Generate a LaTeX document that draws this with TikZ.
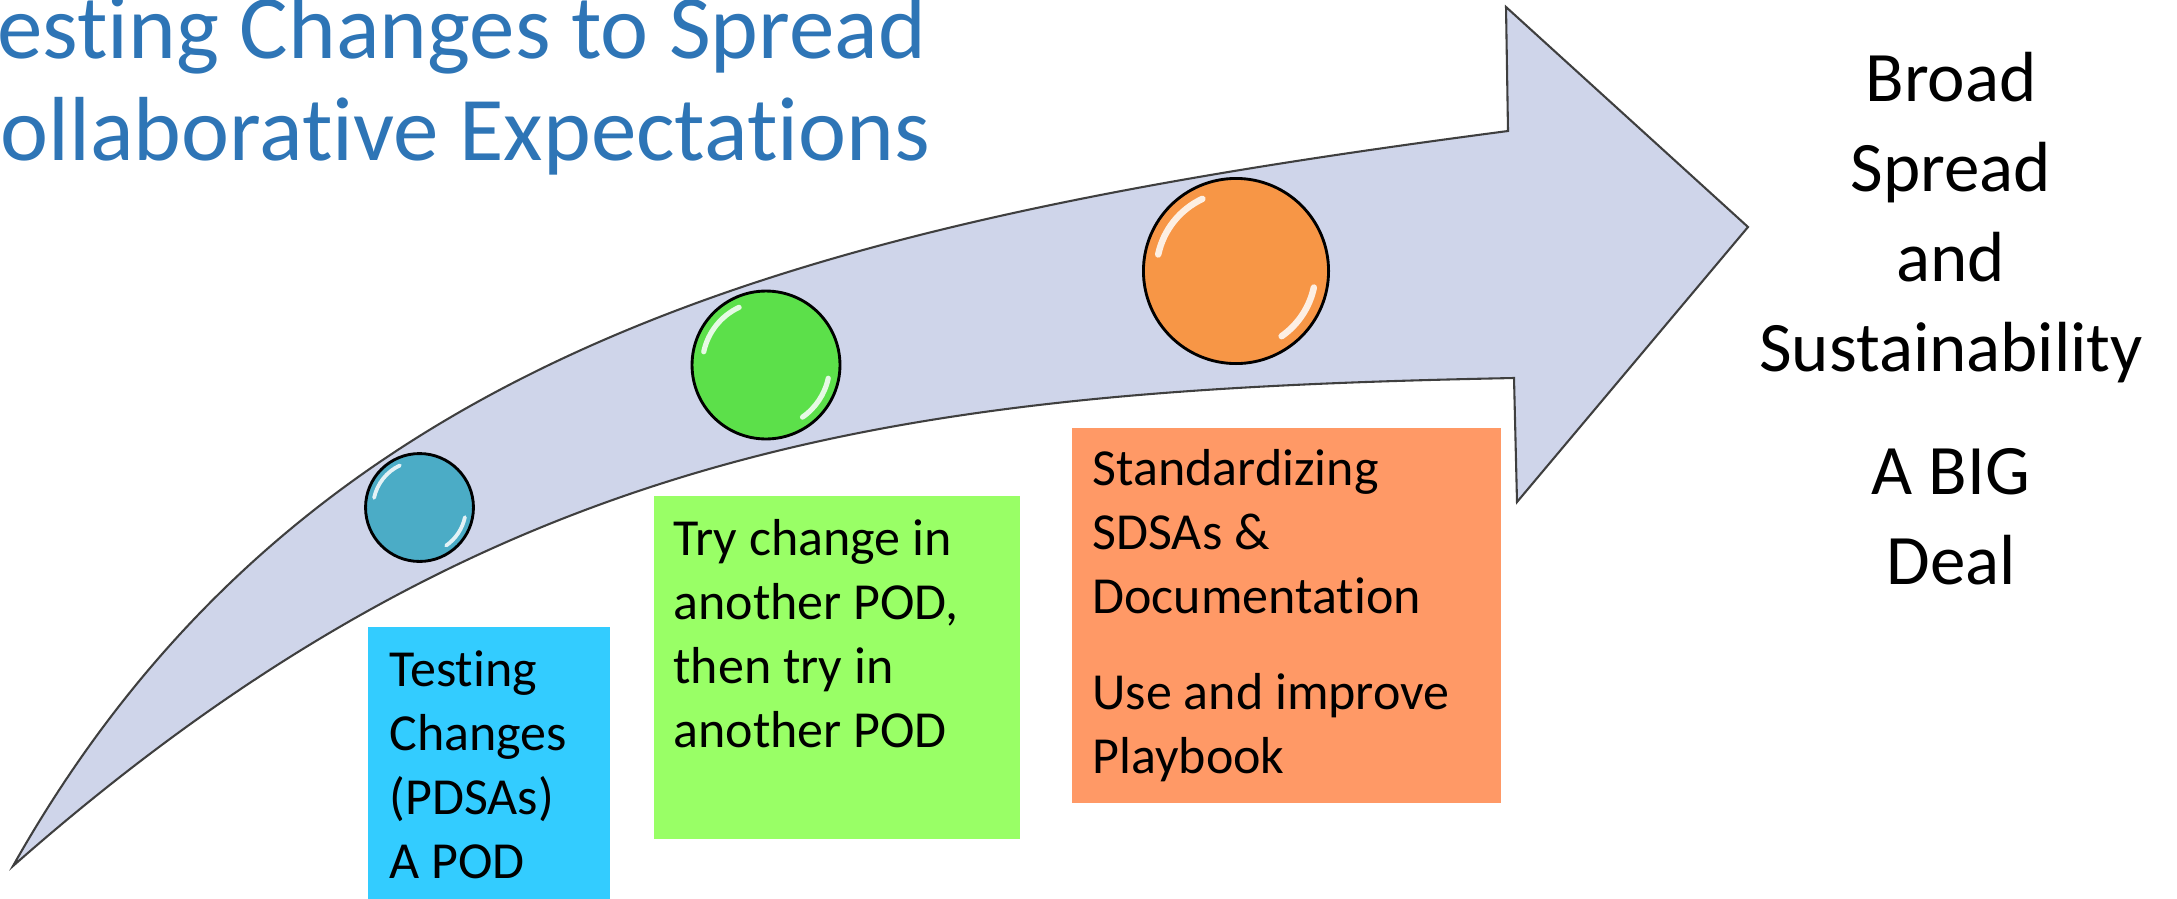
\documentclass[tikz,border=0pt]{standalone}
\usepackage{fontspec}
\setmainfont{Carlito}[Ligatures={NoCommon}]
\usetikzlibrary{calc}
\definecolor{arrowfill}{HTML}{CFD5EA}
\definecolor{arrowline}{HTML}{3F3F3F}
\definecolor{titleblue}{HTML}{2E75B6}
\definecolor{dotblue}{HTML}{4BACC6}
\definecolor{dotgreen}{HTML}{5CE04A}
\definecolor{dotorange}{HTML}{F79646}
\definecolor{boxblue}{HTML}{33CCFF}
\definecolor{boxgreen}{HTML}{99FF66}
\definecolor{boxorange}{HTML}{FF9966}
\tikzset{
  dot/.style={circle, draw=black, line width=1.1pt, inner sep=0pt},
  notebox/.style={rectangle, anchor=north west, inner sep=0pt, draw=none},
  boxtext/.style={anchor=base west, inner sep=0pt, align=left, font=\fontsize{20}{24.6}\selectfont},
  titletext/.style={anchor=base west, inner sep=0pt, text=titleblue, font=\fontsize{35}{39}\selectfont},
  gloss/.style={white, opacity=0.85, line cap=round}
}
\newcommand{\glossy}[2]{%
  \begin{scope}[shift={(#1.center)}, x=0.3846pt, y=0.3846pt]
    \draw[gloss, line width=0.07*#2*0.3846pt] (115:0.86*#2) arc[start angle=115, end angle=168, radius=0.86*#2];
    \draw[gloss, line width=0.07*#2*0.3846pt] (-12:0.86*#2) arc[start angle=-12, end angle=-55, radius=0.86*#2];
  \end{scope}}
\begin{document}
\begin{tikzpicture}[x=0.3846pt, y=-0.3846pt]
\useasboundingbox (0,0) rectangle (2177,898);

% title
\node[titletext] (title1) at (-3,58) {esting Changes to Spread};
\node[titletext] (title2) at (0,160) {ollaborative Expectations};

% curved arrow
\coordinate (tail) at (13,866);
\coordinate (shafttop) at (1508,131);
\coordinate (headtop) at (1506,7);
\coordinate (tip) at (1748,227);
\coordinate (headbot) at (1517,502);
\coordinate (shaftbot) at (1514,378);
\filldraw[fill=arrowfill, draw=arrowline, line width=0.8pt, line join=miter]
  (tail) .. controls (307,344) and (815,222) .. (shafttop)
  -- (headtop) -- (tip) -- (headbot) -- (shaftbot)
  .. controls (914,390) and (500,437) .. (tail) -- cycle;

% dots
\node[dot, fill=dotblue, minimum size=41.5pt] (c1) at (419.5,507.5) {};
\node[dot, fill=dotgreen, minimum size=56.9pt] (c2) at (766,365) {};
\node[dot, fill=dotorange, minimum size=71.2pt] (c3) at (1236,271) {};
\glossy{c1}{54}
\glossy{c2}{74}
\glossy{c3}{92.5}

% boxes
\node[notebox, fill=boxblue, minimum width=242*0.3846pt, minimum height=272*0.3846pt] (b1) at (367,626) {};
\node[notebox, fill=boxgreen, minimum width=366*0.3846pt, minimum height=343*0.3846pt] (b2) at (653,495) {};
\node[notebox, fill=boxorange, minimum width=429*0.3846pt, minimum height=375*0.3846pt] (b3) at (1071,427) {};

% multi-line nodes: base anchor is the baseline of the last line
\node[boxtext] (t1) at (389,878) {Testing\\Changes\\(PDSAs)\\A POD};
\node[boxtext] (t2) at (673,747) {Try change in\\another POD,\\then try in\\another POD};
\node[boxtext] (t3) at (1092,773) {Standardizing\\SDSAs \&\\Documentation\\[12.3pt]Use and improve\\Playbook};

% goal text
\node[anchor=base, inner sep=0pt, align=center, font=\fontsize{27.3}{34.6}\selectfont] (goal) at (1951,584)
  {Broad\\Spread\\and\\Sustainability\\[12.7pt]A BIG\\Deal};
\end{tikzpicture}
\end{document}
